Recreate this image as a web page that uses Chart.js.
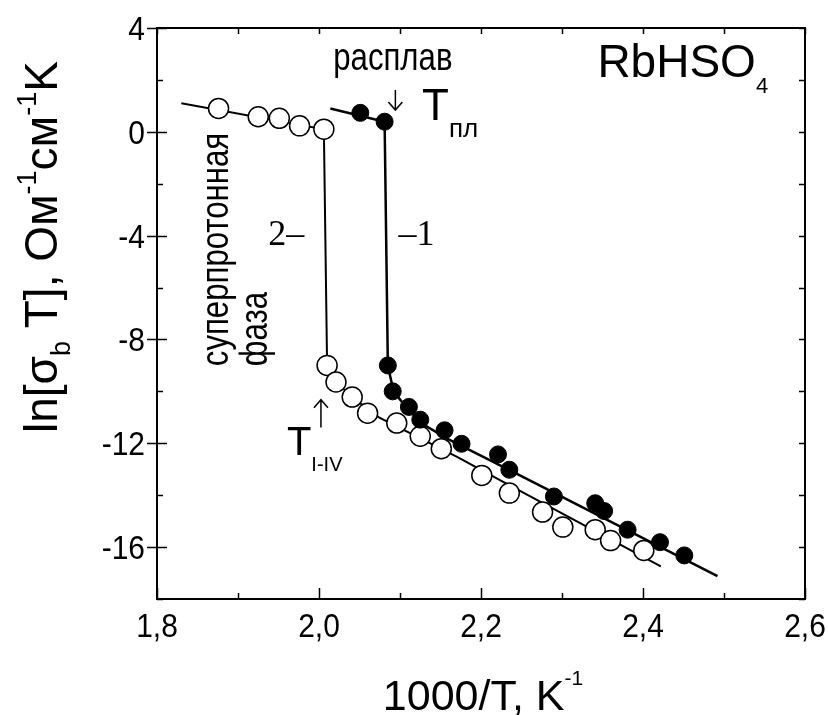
<!DOCTYPE html>
<html>
<head>
<meta charset="utf-8">
<script src="https://cdn.jsdelivr.net/npm/chart.js@4"></script>
<style>
  html, body { margin: 0; padding: 0; background: #fff; }
</style>
</head>
<body>
<canvas id="chart" width="828" height="715"></canvas>
<script>
// curve 1, filled circles
var x1 = [2.051, 2.081, 2.085, 2.091, 2.111, 2.125, 2.155, 2.176, 2.221, 2.235, 2.290, 2.341, 2.352, 2.381, 2.421, 2.451];
var y1 = [0.73, 0.39, -9.0, -10.0, -10.6, -11.09, -11.5, -12.02, -12.43, -13.02, -14.05, -14.31, -14.61, -15.33, -15.81, -16.32];
// curve 2, open circles
var x2 = [1.876, 1.925, 1.951, 1.976, 2.006, 2.010, 2.021, 2.041, 2.060, 2.096, 2.125, 2.151, 2.201, 2.235, 2.276, 2.301, 2.341, 2.360, 2.401];
var y2 = [0.90, 0.58, 0.52, 0.23, 0.10, -9.0, -9.64, -10.22, -10.84, -11.22, -11.73, -12.21, -13.24, -13.92, -14.65, -15.23, -15.33, -15.75, -16.13];
// guide lines drawn through the points
var line1X = [2.014, 2.081, 2.085, 2.092, 2.110, 2.130, 2.160, 2.245, 2.492];
var line1Y = [0.90, 0.39, -9.0, -10.0, -10.7, -11.3, -11.85, -13.19, -17.12];
var line2X = [1.830, 2.006, 2.010, 2.020, 2.040, 2.074, 2.171, 2.224, 2.422];
var line2Y = [1.10, 0.10, -9.0, -9.6, -10.2, -11.0, -12.53, -13.43, -16.74];
// axis ticks
var xTicks = [1.8, 2.0, 2.2, 2.4, 2.6];
var yTicks = [4, 0, -4, -8, -12, -16];

var FONT = "'Liberation Sans', Arial, sans-serif";
var SERIF = "'Liberation Serif', 'Times New Roman', serif";

// is a narrow sans installed? otherwise squeeze the regular one
function hasFont(name) {
  var c = document.createElement('canvas').getContext('2d');
  c.font = '40px monospace';
  var a = c.measureText('суперпротонная 1,8').width;
  c.font = "40px '" + name + "', monospace";
  return c.measureText('суперпротонная 1,8').width !== a;
}
var NARROW_OK = hasFont('Liberation Sans Narrow');
var NARROW = NARROW_OK ? "'Liberation Sans Narrow', " + FONT : FONT;
var SQUEEZE = NARROW_OK ? 1 : 0.82;

function pts(xs, ys) {
  return xs.map(function (x, i) { return { x: x, y: ys[i] }; });
}

function rich(ctx, x, y, parts, family) {
  var cx = x;
  parts.forEach(function (p) {
    ctx.font = p[1] + 'px ' + (family || FONT);
    ctx.fillText(p[0], cx, y + p[2]);
    cx += ctx.measureText(p[0]).width;
  });
  return cx - x;
}
function richWidth(ctx, parts) {
  var w = 0;
  parts.forEach(function (p) {
    ctx.font = p[1] + 'px ' + FONT;
    w += ctx.measureText(p[0]).width;
  });
  return w;
}
function narrowText(ctx, s, x, y, size) {
  ctx.save();
  ctx.translate(x, y);
  ctx.scale(SQUEEZE, 1);
  ctx.font = size + 'px ' + NARROW;
  ctx.fillText(s, 0, 0);
  ctx.restore();
}
// tick labels look like regular Arial pulled a bit taller
function tallText(ctx, s, cx, cy, size, align) {
  ctx.save();
  ctx.font = size + 'px ' + FONT;
  var w = ctx.measureText(s).width;
  var x0 = align === 'right' ? cx - w : cx - w / 2;
  ctx.translate(x0, cy);
  ctx.scale(1, 1.1);
  ctx.fillText(s, 0, 0);
  ctx.restore();
}

var decor = {
  id: 'decor',
  afterDraw: function (chart) {
    var ctx = chart.ctx, a = chart.chartArea;
    var xs = chart.scales.x, ys = chart.scales.y;
    var px = function (v) { return xs.getPixelForValue(v); };
    var py = function (v) { return ys.getPixelForValue(v); };
    ctx.save();
    ctx.strokeStyle = '#000';
    ctx.fillStyle = '#000';
    ctx.lineWidth = 1.5;

    // ticks (inside)
    ctx.beginPath();
    for (var i = 0; i <= 8; i++) {
      var v = 1.8 + i * 0.1, X = Math.round(px(v)) + 0.5;
      var L = (i % 2 === 0) ? 11 : 6;
      ctx.moveTo(X, a.bottom); ctx.lineTo(X, a.bottom - L);
      ctx.moveTo(X, a.top); ctx.lineTo(X, a.top + 6);
    }
    for (var k = 0; k <= 11; k++) {
      var yv = 4 - k * 2, Y = Math.round(py(yv)) + 0.5;
      var major = (yv % 4 === 0);
      ctx.moveTo(major ? a.left - 10 : a.left, Y); ctx.lineTo(a.left + (major ? 10 : 6), Y);
      ctx.moveTo(a.right, Y); ctx.lineTo(a.right - 6, Y);
    }
    ctx.stroke();

    // frame
    ctx.lineWidth = 2;
    ctx.strokeRect(a.left, a.top, a.right - a.left, a.bottom - a.top);

    // tick labels
    ctx.textBaseline = 'alphabetic';
    ctx.textAlign = 'left';
    xTicks.forEach(function (v) {
      tallText(ctx, v.toFixed(1).replace('.', ','), px(v), a.bottom + 38, 30, 'center');
    });
    yTicks.forEach(function (v) {
      tallText(ctx, String(v), a.left - 12, py(v) + 12, 30, 'right');
    });

    // axis titles
    var xt = [['1000/T, K', 43, 0], ['-1', 21, -25]];
    var w = richWidth(ctx, xt);
    rich(ctx, (a.left + a.right) / 2 - w / 2 + 2, 710, xt);

    ctx.save();
    ctx.translate(57, 433);
    ctx.rotate(-Math.PI / 2);
    rich(ctx, 0, 0, [['ln[σ', 46, 0], ['b', 27, 13], [' T], Ом', 46, 0], ['-1', 27, -21], ['см', 46, 0], ['-1', 27, -21], ['K', 46, 0]]);
    ctx.restore();

    // annotations
    narrowText(ctx, 'расплав', px(2.0176), py(2.38), 38);
    rich(ctx, px(2.1273), py(0.452), [['T', 44, 0], ['пл', 26, 17]]);
    rich(ctx, px(2.3437), py(2.11), [['RbHSO', 46, 0], ['4', 22, 16]]);
    rich(ctx, px(1.9373), py(-4.37), [['2–', 36, 0]], SERIF);
    rich(ctx, px(2.098), py(-4.37), [['–1', 36, 0]], SERIF);
    rich(ctx, px(1.9604), py(-12.47), [['T', 40, 0], ['I-IV', 20, 16]]);

    ctx.save();
    ctx.translate(px(1.8878), py(-9.03));
    ctx.rotate(-Math.PI / 2);
    narrowText(ctx, 'суперпротонная', 0, 0, 38);
    narrowText(ctx, 'фаза', 0, 39, 38);
    ctx.restore();

    // arrows
    ctx.lineWidth = 1.5;
    var ax = px(2.0943), at = py(1.61), ab = py(0.84);
    ctx.beginPath();
    ctx.moveTo(ax, at); ctx.lineTo(ax, ab);
    ctx.moveTo(ax - 7, ab - 8); ctx.lineTo(ax, ab); ctx.lineTo(ax + 7, ab - 8);
    var ux = px(2.0024), ut = py(-10.32), ub = py(-11.39);
    ctx.moveTo(ux, ub); ctx.lineTo(ux, ut);
    ctx.moveTo(ux - 7, ut + 8); ctx.lineTo(ux, ut); ctx.lineTo(ux + 7, ut + 8);
    ctx.stroke();

    ctx.restore();
  }
};

new Chart(document.getElementById('chart'), {
  type: 'scatter',
  data: {
    datasets: [
      {
        label: '1',
        data: pts(x1, y1),
        pointRadius: 8.5,
        pointBackgroundColor: '#000',
        pointBorderColor: '#000',
        pointBorderWidth: 1,
        order: 1
      },
      {
        label: '2',
        data: pts(x2, y2),
        pointRadius: 10,
        pointBackgroundColor: '#fff',
        pointBorderColor: '#000',
        pointBorderWidth: 1.5,
        order: 1
      },
      {
        label: 'line1',
        data: pts(line1X, line1Y),
        showLine: true,
        pointRadius: 0,
        borderColor: '#000',
        borderWidth: 2.5,
        order: 2
      },
      {
        label: 'line2',
        data: pts(line2X, line2Y),
        showLine: true,
        pointRadius: 0,
        borderColor: '#000',
        borderWidth: 2,
        order: 2
      }
    ]
  },
  options: {
    responsive: false,
    animation: false,
    devicePixelRatio: 1,
    layout: { padding: { left: 0, right: 23, top: 28, bottom: 0 } },
    plugins: { legend: { display: false }, tooltip: { enabled: false } },
    scales: {
      x: {
        type: 'linear',
        min: 1.8, max: 2.6,
        afterBuildTicks: function (s) { s.ticks = xTicks.map(function (v) { return { value: v }; }); },
        afterFit: function (s) { s.height = 116; },
        grid: { display: false, drawTicks: false },
        border: { display: false },
        // labels are painted by the decor plugin
        ticks: { display: false }
      },
      y: {
        type: 'linear',
        min: -18, max: 4,
        afterBuildTicks: function (s) { s.ticks = yTicks.map(function (v) { return { value: v }; }); },
        afterFit: function (s) { s.width = 157; },
        grid: { display: false, drawTicks: false },
        border: { display: false },
        ticks: { display: false }
      }
    }
  },
  plugins: [decor]
});
</script>
</body>
</html>
